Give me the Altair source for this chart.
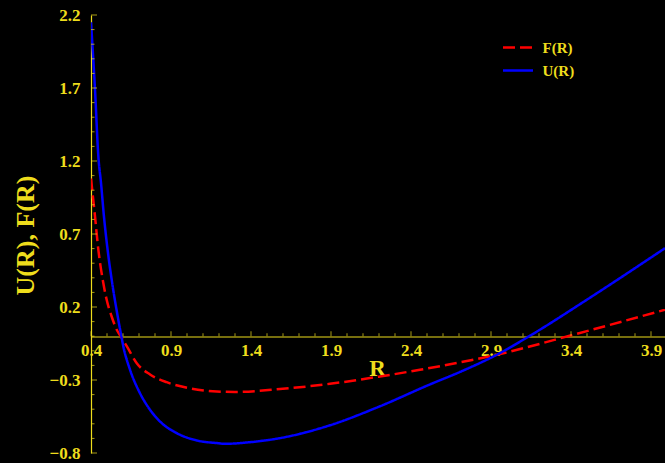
import altair as alt
import pandas as pd

# ---- data ----
R_U = [0.400, 0.425, 0.446, 0.4625, 0.481, 0.504, 0.533, 0.567, 0.588, 0.602, 0.644,
       0.706, 0.769, 0.831, 0.936, 1.061, 1.186, 1.24, 1.373, 1.581, 1.894, 2.206,
       2.519, 2.706, 2.936, 3.154, 3.498, 3.9875]
U = [2.15, 1.69, 1.23, 1.05, 0.82, 0.59, 0.36, 0.135, 0.01, -0.07, -0.23,
     -0.39, -0.504, -0.584, -0.664, -0.714, -0.732, -0.737, -0.728, -0.698, -0.61, -0.48,
     -0.33, -0.245, -0.127, 0.01, 0.249, 0.603]

R_F = [0.400, 0.425, 0.446, 0.477, 0.498, 0.529, 0.561, 0.585, 0.627, 0.686, 0.769,
       0.873, 1.019, 1.186, 1.30, 1.581, 1.894, 2.206, 2.456, 2.685, 2.936, 3.435, 3.9875]
F = [1.08, 0.82, 0.592, 0.364, 0.249, 0.135, 0.044, 0.0, -0.075, -0.185, -0.262,
     -0.315, -0.357, -0.379, -0.382, -0.362, -0.326, -0.276, -0.23, -0.184, -0.127, 0.016, 0.181]

series_names = ["F(R)", "U(R)"]
x_major = [0.4, 0.9, 1.4, 1.9, 2.4, 2.9, 3.4, 3.9]
y_major = [-0.8, -0.3, 0.2, 0.7, 1.2, 1.7, 2.2]
x_minor = [round(0.4 + 0.1 * i, 1) for i in range(36) if i % 5 != 0]
y_minor = [round(-0.8 + 0.1 * i, 1) for i in range(31) if i % 5 != 0]

YEL = "#EEDD1C"
FONT = "Liberation Serif"

lines_df = pd.concat([
    pd.DataFrame({"R": R_F, "value": F, "series": "F(R)"}),
    pd.DataFrame({"R": R_U, "value": U, "series": "U(R)"}),
])

xscale = alt.Scale(domain=[0.4, 3.9875], nice=False, zero=False)
yscale = alt.Scale(domain=[-0.8, 2.2], nice=False, zero=False)

x_axis = alt.Axis(
    orient="bottom", offset=-116.5, values=x_major, format=".1f", ticks=False,
    grid=False, domainColor=YEL, domainWidth=1.2, labelColor=YEL, labelFont=FONT,
    labelFontWeight="bold", labelFontSize=17, labelPadding=6, labelFlush=False,
    labelOverlap=False, title="R", titleFont=FONT, titleFontWeight="bold",
    titleFontSize=23, titleColor=YEL, titleX=286, titleY=39, titleAlign="center",
    titleBaseline="alphabetic",
)
y_axis = alt.Axis(
    orient="left", values=y_major, format=".1f", ticks=False, grid=False,
    domainColor=YEL, domainWidth=1.2, labelColor=YEL, labelFont=FONT,
    labelFontWeight="bold", labelFontSize=17, labelPadding=11, labelFlush=False,
    labelOverlap=False, title="U(R), F(R)", titleFont=FONT, titleFontWeight="bold",
    titleFontSize=26, titleColor=YEL, titleX=-66, titleY=220, titleAlign="center",
    titleBaseline="middle", titleAngle=270,
)

legend = alt.Legend(
    title=None, orient="none", legendX=419.5, legendY=25,
    symbolType="M-3,0H3", symbolSize=100, symbolStrokeWidth=2.5,
    labelFont=FONT, labelFontSize=15, labelFontWeight="bold",
    labelColor=YEL, labelOffset=17, rowPadding=7, padding=0)

lines = alt.Chart(lines_df).mark_line(strokeWidth=2.5, clip=True, interpolate="monotone").encode(
    x=alt.X("R:Q", scale=xscale, axis=x_axis),
    y=alt.Y("value:Q", scale=yscale, axis=y_axis),
    color=alt.Color("series:N", scale=alt.Scale(domain=series_names, range=["#FF0000", "#0000FF"]),
                    legend=legend),
    strokeDash=alt.StrokeDash("series:N", scale=alt.Scale(domain=series_names, range=[[12, 5], [1, 0]]),
                              legend=legend),
    order=alt.Order("R:Q"),
)

xt_major = alt.Chart(pd.DataFrame({"t": x_major})).mark_tick(
    orient="vertical", size=5, thickness=1, yOffset=-2.5, color=YEL).encode(
    x=alt.X("t:Q", scale=xscale), y=alt.YDatum(0))
xt_minor = alt.Chart(pd.DataFrame({"t": x_minor})).mark_tick(
    orient="vertical", size=3, thickness=1, yOffset=-1.5, color=YEL).encode(
    x=alt.X("t:Q", scale=xscale), y=alt.YDatum(0))
yt_major = alt.Chart(pd.DataFrame({"t": y_major})).mark_tick(
    orient="horizontal", size=6, thickness=1, xOffset=3, color=YEL).encode(
    y=alt.Y("t:Q", scale=yscale), x=alt.XDatum(0.4))
yt_minor = alt.Chart(pd.DataFrame({"t": y_minor})).mark_tick(
    orient="horizontal", size=3.5, thickness=1, xOffset=1.75, color=YEL).encode(
    y=alt.Y("t:Q", scale=yscale), x=alt.XDatum(0.4))

chart = alt.layer(lines, xt_major, xt_minor, yt_major, yt_minor).properties(
    width=574, height=438, autosize="none",
    padding={"left": 91, "top": 15, "right": 0, "bottom": 10},
    background="black",
).configure_view(strokeWidth=0)

chart.save("out.html", embed_options={"renderer": "svg", "actions": False})
